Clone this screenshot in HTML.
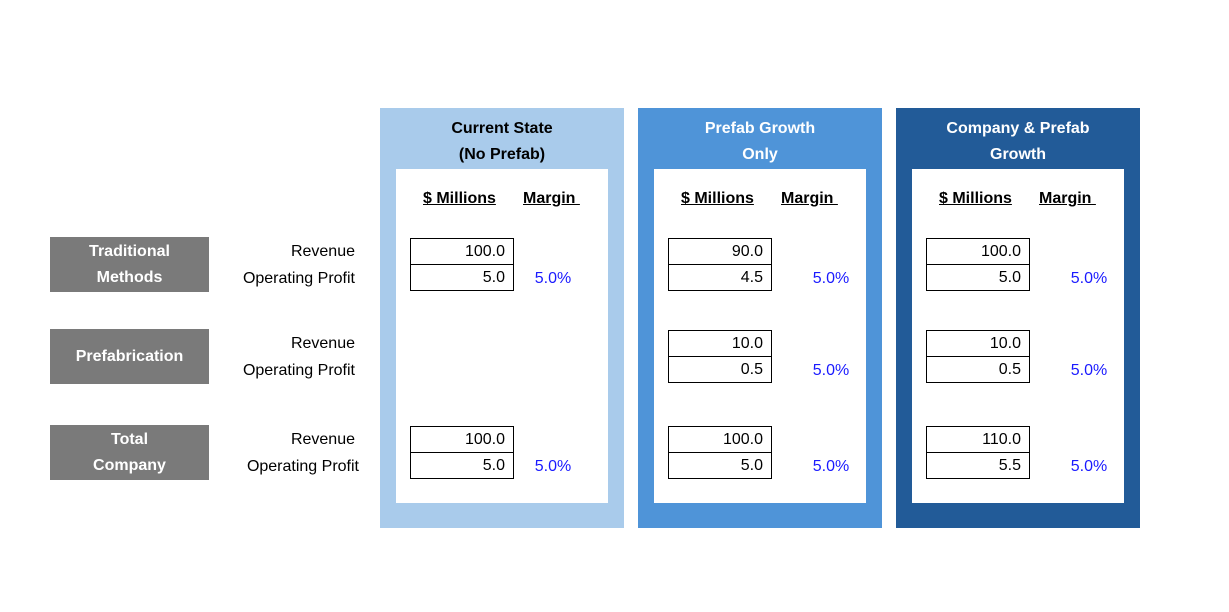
<!DOCTYPE html>
<html><head><meta charset="utf-8"><style>
body{margin:0;width:1229px;height:612px;background:#fff;position:relative;overflow:hidden;font-family:"Liberation Sans",sans-serif;}
.a{position:absolute;box-sizing:border-box;}
.panel .title{position:absolute;left:0;width:244px;top:8px;text-align:center;font-weight:bold;font-size:16px;line-height:26px;}
.inner{position:absolute;left:16px;top:61px;width:212px;height:334px;background:#fff;}
.hdr{position:absolute;top:82px;font-weight:bold;font-size:16px;text-decoration:underline;color:#000;}
.cell{position:absolute;left:30px;width:104px;height:27px;border:1px solid #000;text-align:right;padding-right:8px;font-size:16px;line-height:25px;color:#000;background:#fff;box-sizing:border-box;}
.mg{position:absolute;left:140px;width:66px;text-align:center;font-size:16px;color:#1a1aff;line-height:26px;}
.lab{position:absolute;left:50px;width:159px;height:55px;background:#7a7a7a;color:#fff;font-weight:bold;font-size:16px;display:flex;align-items:center;justify-content:center;text-align:center;line-height:26px;}
.rl{position:absolute;right:874px;font-size:16px;line-height:26px;text-align:right;color:#000;}
</style></head><body>
<div id="root"></div>
<script>
const groups=["Traditional<br>Methods","Prefabrication","Total<br>Company"];
const scenarios=["Current State<br>(No Prefab)","Prefab Growth<br>Only","Company &amp; Prefab<br>Growth"];
const revenue=[[100.0,null,100.0],[90.0,10.0,100.0],[100.0,10.0,110.0]];
const profit=[[5.0,null,5.0],[4.5,0.5,5.0],[5.0,0.5,5.5]];
const panelColors=["#A9CBEB","#4F94D8","#225B98"];
const titleColors=["#000","#fff","#fff"];
const groupTops=[238,330,426];
const panelLeft=[380,638,896];
const root=document.getElementById('root');
groups.forEach((g,i)=>{
  const b=document.createElement('div');
  b.className='lab';b.style.top=(groupTops[i]-1)+'px';b.innerHTML=g;
  
  
  root.appendChild(b);
  const r=document.createElement('div');
  r.className='rl';r.style.top=(groupTops[i]+1)+'px';r.innerHTML='Revenue';
  
  
  root.appendChild(r);
  const p=document.createElement('div');
  p.className='rl';p.style.top=(groupTops[i]+28)+'px';p.innerHTML='Operating Profit';
  if(i==2)p.style.right='870px';
  
  
  root.appendChild(p);
});
scenarios.forEach((s,k)=>{
  const p=document.createElement('div');
  p.className='a panel';
  p.style.cssText=`left:${panelLeft[k]}px;top:108px;width:244px;height:420px;background:${panelColors[k]}`;
  
  
  const t=document.createElement('div');
  t.className='title';t.innerHTML=s;t.style.color=titleColors[k];
  
  
  p.appendChild(t);
  const h1=document.createElement('div');h1.className='hdr';h1.style.left='43px';h1.textContent='$ Millions';
  
  
  p.appendChild(h1);
  const h2=document.createElement('div');h2.className='hdr';h2.style.left='143px';h2.innerHTML='Margin&nbsp;';
  
  
  const inner=document.createElement('div');inner.className='inner';
  
  
  p.appendChild(inner);p.appendChild(h1);p.appendChild(h2);
  groups.forEach((g,i)=>{
    if(revenue[k][i]==null)return;
    const top=groupTops[i]-108;
    const c1=document.createElement('div');c1.className='cell';c1.style.top=top+'px';c1.textContent=revenue[k][i].toFixed(1);
    
    
    p.appendChild(c1);
    const c2=document.createElement('div');c2.className='cell';c2.style.top=(top+26)+'px';c2.textContent=profit[k][i].toFixed(1);
    
    
    p.appendChild(c2);
    const m=document.createElement('div');m.className='mg';m.style.top=(top+28)+'px';
    if(k>0)m.style.left='160px';
    m.textContent=(profit[k][i]/revenue[k][i]*100).toFixed(1)+'%';
    
    
    p.appendChild(m);
  });
  root.appendChild(p);
});
</script>
</body></html>
